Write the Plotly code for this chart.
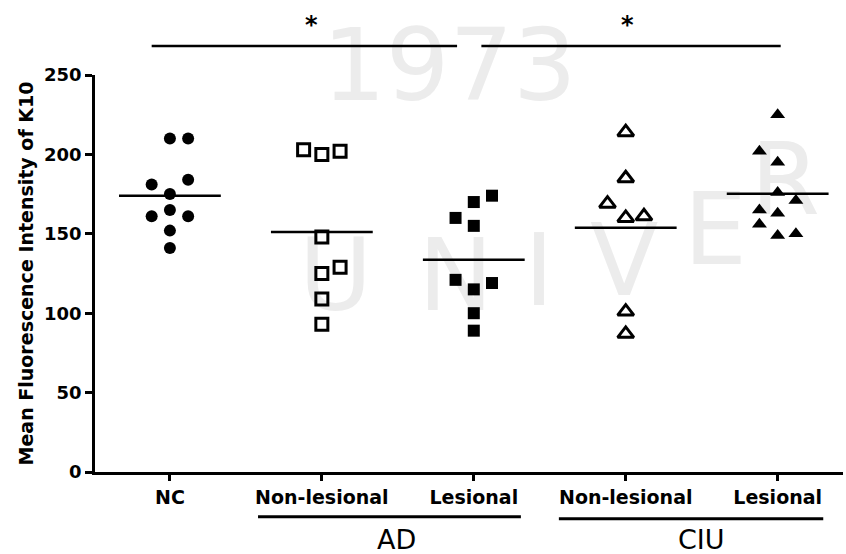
import numpy as np
import plotly.graph_objects as go

# ---------------- data ----------------
categories = ["NC", "Non-lesional", "Lesional", "Non-lesional", "Lesional"]
groups = ["AD", "CIU"]

nc_values = [210, 210, 181, 184, 175, 165, 161, 161, 152, 141]
nc_cols = [0, 1, -1, 1, 0, 0, -1, 1, 0, 0]

ad_nl_values = [203, 200, 202, 148, 125, 129, 109, 93]
ad_nl_cols = [-1, 0, 1, 0, 0, 1, 0, 0]

ad_l_values = [174, 170, 160, 155, 121, 119, 115, 100, 89]
ad_l_cols = [1, 0, -1, 0, -1, 1, 0, 0, 0]

ciu_nl_values = [214, 185, 169, 160, 161, 101, 87]
ciu_nl_cols = [0, 0, -1, 0, 1, 0, 0]

ciu_l_values = [225, 202, 195, 176, 171, 165, 163, 156, 149, 150]
ciu_l_cols = [0, -1, 0, 0, 1, -1, 0, -1, 0, 1]

y_ticks = [0, 50, 100, 150, 200, 250]
significance = ["*", "*"]

# faint background watermark (decorative text)
watermark_text = ["1973", "U", "N", "I", "V", "E", "R"]
watermark_x = [1.84, 1.09, 1.88, 2.43, 2.99, 3.59, 4.05]
watermark_y = [250, 118, 118, 121, 127, 147, 178]

# ---------------- styling ----------------
COL_W = 0.12      # horizontal spread of dot columns (category units)
MEAN_HALF = 0.335 # half width of mean bar
BOLD = "DejaVu Sans"

series = [
    (nc_values, nc_cols, dict(symbol="circle", size=12, color="black")),
    (ad_nl_values, ad_nl_cols, dict(symbol="square-open", size=12, color="black",
                                     line=dict(width=3, color="black"))),
    (ad_l_values, ad_l_cols, dict(symbol="square", size=12, color="black")),
    (ciu_nl_values, ciu_nl_cols, dict(symbol="triangle-up-open", size=14, color="black",
                                       line=dict(width=3, color="black"))),
    (ciu_l_values, ciu_l_cols, dict(symbol="triangle-up", size=13, color="black")),
]

fig = go.Figure()

fig.add_trace(go.Scatter(x=watermark_x, y=watermark_y, mode="text", text=watermark_text,
                         textposition="middle center", cliponaxis=False,
                         textfont=dict(family="DejaVu Sans", size=100, color="#ececec"),
                         showlegend=False, hoverinfo="skip"))

for gi, (vals, cols, mk) in enumerate(series):
    xs = [gi + c * COL_W for c in cols]
    fig.add_trace(go.Scatter(x=xs, y=vals, mode="markers", marker=mk,
                             showlegend=False, hoverinfo="y"))
    m = float(np.mean(vals))
    fig.add_trace(go.Scatter(x=[gi - MEAN_HALF, gi + MEAN_HALF], y=[m, m],
                             mode="lines", line=dict(color="black", width=2.5),
                             showlegend=False, hoverinfo="skip"))

# significance brackets (above plot) and group underlines (below)
brackets = [(-0.12, 1.89), (2.05, 4.02)]
star_x = [0.93, 3.01]
shapes = []
for (x0, x1) in brackets:
    shapes.append(dict(type="line", xref="x", yref="paper", x0=x0, x1=x1,
                       y0=1.073, y1=1.073, line=dict(color="black", width=2.5)))
group_lines = [(0.58, 2.31, -0.113), (2.56, 4.30, -0.118)]
for (x0, x1, yy) in group_lines:
    shapes.append(dict(type="line", xref="x", yref="paper", x0=x0, x1=x1,
                       y0=yy, y1=yy, line=dict(color="black", width=3)))

annotations = []
for sx, s in zip(star_x, significance):
    annotations.append(dict(x=sx, y=1.125, xref="x", yref="paper", text=s,
                            showarrow=False, yanchor="middle",
                            font=dict(family=BOLD, size=24, color="black", weight="bold")))
group_x = [1.49, 3.5]
for gx, g in zip(group_x, groups):
    annotations.append(dict(x=gx, y=-0.171, xref="x", yref="paper", text=g,
                            showarrow=False, yanchor="middle",
                            font=dict(family="DejaVu Sans", size=27, color="black")))

fig.update_layout(
    width=846, height=554,
    margin=dict(l=95, r=3, t=75, b=82, autoexpand=False),
    paper_bgcolor="white", plot_bgcolor="white",
    shapes=shapes, annotations=annotations,
    xaxis=dict(range=[-0.493, 4.43], tickvals=list(range(len(categories))),
               ticktext=categories, showgrid=False, zeroline=False,
               showline=True, linewidth=2.5, linecolor="black",
               ticks="outside", ticklen=6, tickwidth=2.5, tickcolor="black",
               tickfont=dict(family=BOLD, size=19, color="black", weight="bold"),
               fixedrange=True),
    yaxis=dict(range=[0, 250], tickvals=y_ticks, showgrid=False, zeroline=False,
               showline=True, linewidth=2.5, linecolor="black",
               ticks="outside", ticklen=7, tickwidth=2.5, tickcolor="black",
               tickfont=dict(family=BOLD, size=18, color="black", weight="bold"),
               title=dict(text="Mean Fluorescence Intensity of K10", standoff=6,
                          font=dict(family=BOLD, size=19, color="black", weight="bold")),
               fixedrange=True),
)

fig.write_html("out.html")
